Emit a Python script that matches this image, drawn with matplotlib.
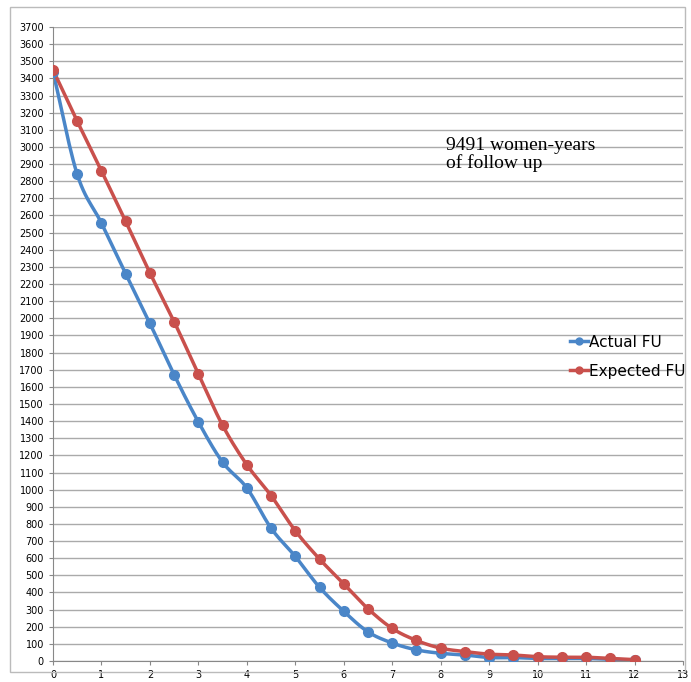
import matplotlib
matplotlib.use("Agg")
import matplotlib.pyplot as plt
import numpy as np

years = np.arange(0, 12.5, 0.5)
actual_fu = [3440, 2840, 2555, 2260, 1970, 1670, 1395, 1160, 1010, 775, 610, 430, 290,
             170, 105, 65, 45, 35, 20, 20, 15, 15, 15, 10, 5]
expected_fu = [3450, 3150, 2860, 2565, 2265, 1980, 1675, 1375, 1145, 965, 760, 595, 450,
               305, 190, 120, 75, 55, 40, 35, 25, 22, 22, 15, 8]


def smooth(x, y, n=12):
    # catmull-rom curve through the points, like Excel's smoothed line
    x = np.asarray(x, float); y = np.asarray(y, float)
    px = np.concatenate([[2*x[0]-x[1]], x, [2*x[-1]-x[-2]]])
    py = np.concatenate([[2*y[0]-y[1]], y, [2*y[-1]-y[-2]]])
    t = np.linspace(0, 1, n, endpoint=False)[:, None]
    out_x, out_y = [], []
    for i in range(1, len(px)-2):
        for p, out in ((px, out_x), (py, out_y)):
            p0, p1, p2, p3 = p[i-1], p[i], p[i+1], p[i+2]
            v = 0.5*((2*p1) + (-p0+p2)*t + (2*p0-5*p1+4*p2-p3)*t**2 + (-p0+3*p1-3*p2+p3)*t**3)
            out.extend(v.ravel())
    out_x.append(x[-1]); out_y.append(y[-1])
    return out_x, out_y


fig = plt.figure(figsize=(6.91, 6.82), dpi=100)
ax = fig.add_axes([53/691, 21/682, 630/691, 634/682])
fig.patches.append(plt.Rectangle((10/691, 10/682), 675/691, 665/682, transform=fig.transFigure,
                                 fill=False, edgecolor="#bbbbbb", lw=1))

blue, red = "#4a86c8", "#c9504c"
for y, c, lab in ((actual_fu, blue, "Actual FU"), (expected_fu, red, "Expected FU")):
    sx, sy = smooth(years, y)
    ax.plot(sx, sy, color=c, lw=2.5, zorder=2)
    ax.plot(years, y, "o", color=c, markersize=7, markeredgecolor=c, zorder=3)
    ax.plot([], [], "-o", color=c, lw=2.5, markersize=5, label=lab)

ax.set_xlim(0, 13)
ax.set_ylim(0, 3700)
ax.set_xticks(range(0, 14))
ax.set_yticks(range(0, 3701, 100))
ax.tick_params(labelsize=7, length=3, color="#888888")
ax.grid(axis="y", color="#aaaaaa", lw=1)
ax.set_axisbelow(True)
for s in ("top", "right"):
    ax.spines[s].set_visible(False)
for s in ("left", "bottom"):
    ax.spines[s].set_color("#888888")

ax.text(8.1, 3060, "9491 women-years\nof follow up", fontsize=14, family="Liberation Serif",
        va="top", linespacing=1.0)
ax.legend(loc="center left", bbox_to_anchor=(0.82, 0.48), frameon=False, fontsize=11,
          handlelength=1.2, handletextpad=0.05, labelspacing=0.9, borderaxespad=0, borderpad=0)

fig.savefig("out.png", dpi=100)
